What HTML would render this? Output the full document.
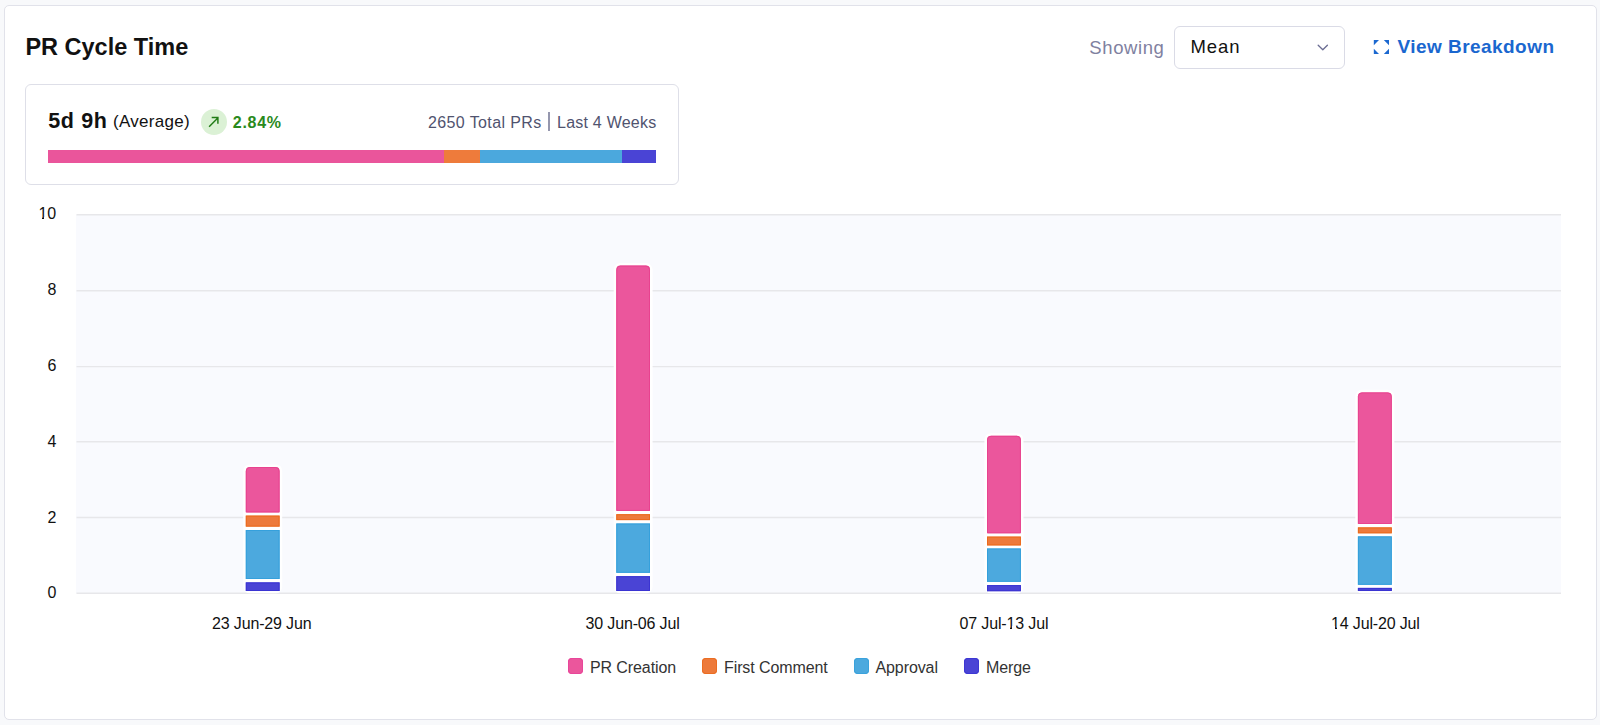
<!DOCTYPE html>
<html><head><meta charset="utf-8"><style>
*{box-sizing:border-box;margin:0;padding:0}
html,body{width:1600px;height:725px;overflow:hidden;background:#f8f9fb;font-family:"Liberation Sans",sans-serif}
.card{position:absolute;left:4px;top:5px;width:1593px;height:715px;background:#fff;border:1px solid #e1e2ea;border-radius:5px}
.t{position:absolute;white-space:nowrap;line-height:1}
#title{left:25.4px;top:35.9px;font-size:23.5px;font-weight:700;color:#111;letter-spacing:0px}
#showing{left:1089.3px;top:38.5px;font-size:18.5px;color:#7f819f;letter-spacing:0.6px}
.dd{position:absolute;left:1174px;top:26px;width:171px;height:43px;border:1px solid #dadbe6;border-radius:6px;background:#fff}
#mean{left:1190.6px;top:38.4px;font-size:18.5px;color:#111;letter-spacing:0.85px}
#vb{left:1397.5px;top:37.4px;font-size:19px;font-weight:700;color:#1a67cf;letter-spacing:0.45px}
.sum{position:absolute;left:25px;top:84px;width:654px;height:101px;border:1px solid #dedfe8;border-radius:6px;background:#fff}
#big{left:48.3px;top:110.9px;font-size:21.5px;font-weight:700;color:#111;letter-spacing:0.6px}
#avg{left:113px;top:113px;font-size:17px;color:#111;letter-spacing:0.3px}
.gc{position:absolute;left:200.5px;top:108.7px;width:26px;height:26px;border-radius:50%;background:#dbf1d5}
#pct{left:232.8px;top:114.7px;font-size:16px;font-weight:700;color:#2a8a1c;letter-spacing:0.7px}
#tot{left:428px;top:114.5px;font-size:16px;color:#50536f;letter-spacing:0.38px}
#last{left:557px;top:114.5px;font-size:16px;color:#50536f;letter-spacing:0.23px}
.sep{position:absolute;left:548.1px;top:112.2px;width:1.5px;height:18.7px;background:#9597ae}
.bar{position:absolute;top:150px;height:13.4px}
.ax{position:absolute;font-size:16px;color:#111;white-space:nowrap;line-height:1;letter-spacing:-0.15px}
.lg{position:absolute;font-size:16px;color:#333;white-space:nowrap;line-height:1;letter-spacing:-0.1px}
.o{position:relative}
.o::before,.o::after{content:'';position:absolute;background:#fff;height:0.2em;bottom:0.12em}
.o::before{left:-0.02em;width:0.265em}
.o::after{left:0.35em;width:0.22em}
.sq{position:absolute;top:658.2px;width:15.3px;height:15.5px;border-radius:4px}
</style></head><body>
<div class="card"></div>
<div class="t" id="title">PR Cycle Time</div>
<div class="t" id="showing">Showing</div>
<div class="dd"></div>
<div class="t" id="mean">Mean</div>
<svg style="position:absolute;left:1316px;top:42px" width="14" height="10" viewBox="0 0 14 10"><path d="M2.2 3.3 L6.8 7.7 L11.4 3.3" fill="none" stroke="#6b6d93" stroke-width="1.35" stroke-linecap="round" stroke-linejoin="round"/></svg>
<svg style="position:absolute;left:1372px;top:38px" width="19" height="18" viewBox="0 0 19 18"><g fill="#1b68d0"><path d="M1.8 2 H7 L1.8 7.2 Z"/><path d="M17 2 H11.8 L17 7.2 Z"/><path d="M1.8 16 H7 L1.8 10.8 Z"/><path d="M17 16 H11.8 L17 10.8 Z"/></g></svg>
<div class="t" id="vb">View Breakdown</div>

<div class="sum"></div>
<div class="t" id="big">5d 9h</div>
<div class="t" id="avg">(Average)</div>
<div class="gc"></div>
<svg style="position:absolute;left:206px;top:114px" width="16" height="16" viewBox="0 0 16 16"><path d="M3.1 12.7 L11.8 4 M5.7 3.5 H11.9 V9.8" fill="none" stroke="#217c16" stroke-width="1.45"/></svg>
<div class="t" id="pct">2.84%</div>
<div class="t" id="tot">2650 Total PRs</div>
<div class="sep"></div>
<div class="t" id="last">Last 4 Weeks</div>
<div class="bar" style="left:48px;width:608.2px;background:linear-gradient(to right,#ea559b 0,#ea559b 396.5px,#ee7b3b 396.5px,#ee7b3b 431.8px,#4ba8dd 431.8px,#4ba8dd 574px,#4a44d5 574px,#4a44d5 100%)"></div>

<svg style="position:absolute;left:0;top:0" width="1600" height="725">
  <rect x="76" y="214.5" width="1485" height="379" fill="#f9fafe"/>
  <g stroke="#e7e7ea" stroke-width="1.4">
    <line x1="76.5" x2="1561" y1="214.8" y2="214.8"/>
    <line x1="76.5" x2="1561" y1="290.8" y2="290.8"/>
    <line x1="76.5" x2="1561" y1="366.6" y2="366.6"/>
    <line x1="76.5" x2="1561" y1="441.8" y2="441.8"/>
    <line x1="76.5" x2="1561" y1="517.5" y2="517.5"/>
    <line x1="76.5" x2="1561" y1="593.3" y2="593.3"/>
  </g>
  <!-- bars -->
<rect x="243.2" y="464.4" width="39.0" height="128.9" rx="6.5" fill="#fff"/>
<path d="M245.8 512.4 V471.0 Q245.8 467.0 249.8 467.0 H275.6 Q279.6 467.0 279.6 471.0 V512.4 Z" fill="#eb569c"/>
<path d="M246.3 511.9 V471.0 Q246.3 467.5 249.8 467.5 H275.6 Q279.1 467.5 279.1 471.0 V511.9 Z" fill="none" stroke="#e8428f" stroke-width="1"/>
<rect x="245.8" y="515.6" width="33.8" height="11.0" fill="#ed7a3b"/>
<rect x="246.3" y="516.1" width="32.8" height="10.0" fill="none" stroke="#eb6a1c" stroke-width="1"/>
<rect x="245.8" y="530.0" width="33.8" height="49.0" fill="#4ca9de"/>
<rect x="246.3" y="530.5" width="32.8" height="48.0" fill="none" stroke="#35a0dc" stroke-width="1"/>
<rect x="245.8" y="582.4" width="33.8" height="8.6" fill="#4a44d5"/>
<rect x="246.3" y="582.9" width="32.8" height="7.6" fill="none" stroke="#3b34d2" stroke-width="1"/>
<rect x="613.7" y="263.0" width="38.9" height="330.3" rx="6.5" fill="#fff"/>
<path d="M616.3 510.9 V269.6 Q616.3 265.6 620.3 265.6 H646.0 Q650.0 265.6 650.0 269.6 V510.9 Z" fill="#eb569c"/>
<path d="M616.8 510.4 V269.6 Q616.8 266.1 620.3 266.1 H646.0 Q649.5 266.1 649.5 269.6 V510.4 Z" fill="none" stroke="#e8428f" stroke-width="1"/>
<rect x="616.3" y="514.2" width="33.7" height="5.9" fill="#ed7a3b"/>
<rect x="616.8" y="514.7" width="32.7" height="4.9" fill="none" stroke="#eb6a1c" stroke-width="1"/>
<rect x="616.3" y="523.5" width="33.7" height="49.3" fill="#4ca9de"/>
<rect x="616.8" y="524.0" width="32.7" height="48.3" fill="none" stroke="#35a0dc" stroke-width="1"/>
<rect x="616.3" y="576.2" width="33.7" height="14.8" fill="#4a44d5"/>
<rect x="616.8" y="576.7" width="32.7" height="13.8" fill="none" stroke="#3b34d2" stroke-width="1"/>
<rect x="984.4" y="433.2" width="39.1" height="160.1" rx="6.5" fill="#fff"/>
<path d="M987.0 533.3 V439.8 Q987.0 435.8 991.0 435.8 H1016.9 Q1020.9 435.8 1020.9 439.8 V533.3 Z" fill="#eb569c"/>
<path d="M987.5 532.8 V439.8 Q987.5 436.3 991.0 436.3 H1016.9 Q1020.4 436.3 1020.4 439.8 V532.8 Z" fill="none" stroke="#e8428f" stroke-width="1"/>
<rect x="987.0" y="536.6" width="33.9" height="8.8" fill="#ed7a3b"/>
<rect x="987.5" y="537.1" width="32.9" height="7.8" fill="none" stroke="#eb6a1c" stroke-width="1"/>
<rect x="987.0" y="548.5" width="33.9" height="33.3" fill="#4ca9de"/>
<rect x="987.5" y="549.0" width="32.9" height="32.3" fill="none" stroke="#35a0dc" stroke-width="1"/>
<rect x="987.0" y="585.1" width="33.9" height="6.1" fill="#4a44d5"/>
<rect x="987.5" y="585.6" width="32.9" height="5.1" fill="none" stroke="#3b34d2" stroke-width="1"/>
<rect x="1355.3" y="389.8" width="39.1" height="203.5" rx="6.5" fill="#fff"/>
<path d="M1357.9 524.0 V396.4 Q1357.9 392.4 1361.9 392.4 H1387.8 Q1391.8 392.4 1391.8 396.4 V524.0 Z" fill="#eb569c"/>
<path d="M1358.4 523.5 V396.4 Q1358.4 392.9 1361.9 392.9 H1387.8 Q1391.3 392.9 1391.3 396.4 V523.5 Z" fill="none" stroke="#e8428f" stroke-width="1"/>
<rect x="1357.9" y="527.4" width="33.9" height="5.9" fill="#ed7a3b"/>
<rect x="1358.4" y="527.9" width="32.9" height="4.9" fill="none" stroke="#eb6a1c" stroke-width="1"/>
<rect x="1357.9" y="536.4" width="33.9" height="48.4" fill="#4ca9de"/>
<rect x="1358.4" y="536.9" width="32.9" height="47.4" fill="none" stroke="#35a0dc" stroke-width="1"/>
<rect x="1357.9" y="587.9" width="33.9" height="3.1" fill="#4a44d5"/>
<rect x="1358.4" y="588.4" width="32.9" height="2.1" fill="none" stroke="#3b34d2" stroke-width="1"/>
</svg>

<div class="ax" style="left:38.5px;top:206px"><span class="o">1</span>0</div>
<div class="ax" style="left:47.5px;top:282px">8</div>
<div class="ax" style="left:47.5px;top:358px">6</div>
<div class="ax" style="left:47.5px;top:433.5px">4</div>
<div class="ax" style="left:47.5px;top:509.5px">2</div>
<div class="ax" style="left:47.5px;top:585px">0</div>

<div class="ax" style="left:212px;top:615.5px">23 Jun-29 Jun</div>
<div class="ax" style="left:585.5px;top:615.5px">30 Jun-06 Jul</div>
<div class="ax" style="left:959.5px;top:615.5px">07 Jul-<span class="o">1</span>3 Jul</div>
<div class="ax" style="left:1331px;top:615.5px"><span class="o">1</span>4 Jul-20 Jul</div>

<div class="sq" style="left:567.9px;background:#eb569c;box-shadow:inset 0 0 0 1px #e8469a"></div>
<div class="lg" style="left:590px;top:659.5px">PR Creation</div>
<div class="sq" style="left:702px;background:#ed7a3b;box-shadow:inset 0 0 0 1px #eb6d22"></div>
<div class="lg" style="left:724px;top:659.5px">First Comment</div>
<div class="sq" style="left:853.6px;background:#4ca9de;box-shadow:inset 0 0 0 1px #3aa2dc"></div>
<div class="lg" style="left:875.5px;top:659.5px">Approval</div>
<div class="sq" style="left:963.8px;background:#4a44d5;box-shadow:inset 0 0 0 1px #3d37d3"></div>
<div class="lg" style="left:986px;top:659.5px">Merge</div>
</body></html>
